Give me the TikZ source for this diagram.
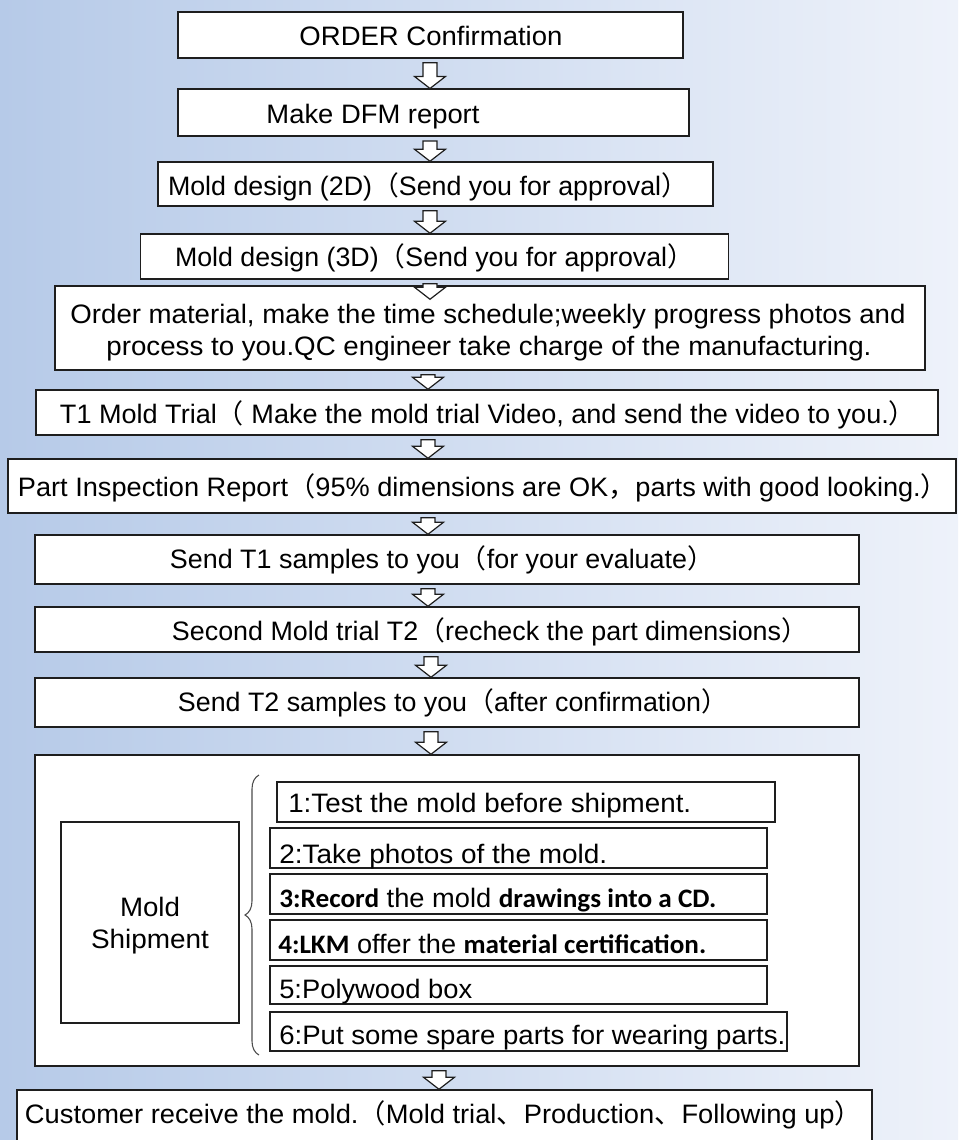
\documentclass[tikz,border=0pt]{standalone}
\usepackage{fontspec}
\setmainfont{Liberation Sans}
\newfontfamily\cjkf{Noto Sans CJK SC}
\newfontfamily\calib{Carlito}
\usetikzlibrary{calc,decorations.pathreplacing}
\newcommand\fw[2]{\resizebox{\dimexpr 0.75pt*#1\relax}{\height}{#2}}
\newcommand\lpar{{\cjkf （}}
\newcommand\rpar{{\cjkf ）}}
\newcommand\fcomma{{\cjkf ，}}
\newcommand\fdun{{\cjkf 、}}
\newcommand\bb[1]{{\calib\bfseries #1}}
\definecolor{bgL}{RGB}{182,202,232}
\definecolor{bgM}{RGB}{214,226,244}
\definecolor{bgR}{RGB}{238,242,250}
\definecolor{edge}{RGB}{30,30,30}
\newcommand\flowarrow[4][0]{%
  \draw[hollow] let \p1=(#2,0), \p2=(#3.south), \p3=($(#4.north)+(0,#1)$) in
   (\x1-5.25pt,\y2-3pt) -- (\x1+5.25pt,\y2-3pt) -- (\x1+5.25pt,\y3+9pt)
   -- (\x1+11.6pt,\y3+9pt) -- (\x1,\y3) -- (\x1-11.6pt,\y3+9pt)
   -- (\x1-5.25pt,\y3+9pt) -- cycle;}
\tikzset{
  boxsty/.style={draw=edge, line width=1.1pt, fill=white, inner sep=0pt},
  bx/.style 2 args={boxsty, minimum width=#1*0.75pt, minimum height=#2*0.75pt},
  txt/.style={inner sep=0pt, anchor=base, font=\fontsize{20}{24}\selectfont, text=black},
  itxt/.style={inner sep=0pt, anchor=base west, font=\fontsize{20}{24}\selectfont, text=black},
  hollow/.style={draw=edge, line width=0.9pt, fill=white, line join=miter},
  bracesty/.style={draw=black!70, line width=0.8pt, decorate,
    decoration={brace, amplitude=10.5pt}}
}
\begin{document}
\begin{tikzpicture}[x=0.75pt,y=-0.75pt]
\useasboundingbox (0,0) rectangle (958,1140);
\clip (0,0) rectangle (958,1140);
\shade[left color=bgL, middle color=bgM, right color=bgR] (0,0) rectangle (958,1140);

% main boxes
\node[bx={505}{46}] (n1) at (430.5,35) {};
\node[bx={511}{47}] (n2) at (433.5,112.7) {};
\node[bx={555}{44}] (n3) at (435.5,184) {};
\node[bx={588}{45}] (n4) at (434.3,256.5) {};
\node[bx={870}{84}] (n5) at (490,328) {};
\node[bx={902}{45}] (n6) at (487,412.5) {};
\node[bx={948}{54}] (n7) at (482,486) {};
\node[bx={824}{49}] (n8) at (447,559.5) {};
\node[bx={824}{45}] (n9) at (447,629.5) {};
\node[bx={824}{49}] (n10) at (447,702.5) {};
\node[bx={824}{311}] (n11) at (447,910.5) {};
\node[bx={855}{70}] (n12) at (444.5,1125) {};

% shipment sub-boxes
\node[bx={178}{201}] (ms) at (150,922.5) {};
\node[bx={498}{40}] (i1) at (526,802) {};
\node[bx={497}{40}] (i2) at (518.5,848) {};
\node[bx={497}{40}] (i3) at (518.5,894) {};
\node[bx={497}{40}] (i4) at (518.5,940) {};
\node[bx={497}{38}] (i5) at (518.5,985) {};
\node[bx={517}{39}] (i6) at (528.5,1031.3) {};

% texts
\node[txt] (t1) at (431,45) {\fw{263}{ORDER Confirmation}};
\node[txt] (t2) at (373,123.3) {\fw{213}{Make DFM report}};
\node[txt] (t3) at (428,195) {\fw{520}{Mold design (2D)\lpar Send you for approval\rpar}};
\node[txt] (t4) at (434.5,266.7) {\fw{519}{Mold design (3D)\lpar Send you for approval\rpar}};
\node[txt] (t5a) at (488,323) {\fw{835}{Order material, make the time schedule;weekly progress photos and}};
\node[txt] (t5b) at (489,355) {\fw{765}{process to you.QC engineer take charge of the manufacturing.}};
\node[txt] (t6) at (488,423) {\fw{856}{T1 Mold Trial\lpar\ Make the mold trial Video, and send the video to you.\rpar}};
\node[txt] (t7) at (483,496) {\fw{930}{Part Inspection Report\lpar 95\% dimensions are OK\fcomma parts with good looking.\rpar}};
\node[txt] (t8) at (442,568) {\fw{544}{Send T1 samples to you\lpar for your evaluate\rpar}};
\node[txt] (t9) at (490,640) {\fw{636}{Second Mold trial T2\lpar recheck the part dimensions\rpar}};
\node[txt] (t10) at (453,711) {\fw{550}{Send T2 samples to you\lpar after confirmation\rpar}};
\node[txt] (t12) at (443.5,1123) {\fw{837}{Customer receive the mold.\lpar Mold trial\fdun Production\fdun Following up\rpar}};

\node[txt] (msa) at (150,916.7) {\fw{60}{Mold}};
\node[txt] (msb) at (150,948) {\fw{118}{Shipment}};

\node[itxt] (it1) at (288,812) {\fw{403}{1:Test the mold before shipment.}};
\node[itxt] (it2) at (279,863) {\fw{328}{2:Take photos of the mold.}};
\node[itxt] (it3) at (279,907.5) {\fw{437}{\bb{3:Record} the mold \bb{drawings into a CD.}}};
\node[itxt] (it4) at (278,953) {\fw{428}{\bb{4:LKM} offer the \bb{material certification.}}};
\node[itxt] (it5) at (279,998) {\fw{193}{5:Polywood box}};
\node[itxt] (it6) at (279,1044) {\fw{506}{6:Put some spare parts for wearing parts.}};

% brace
\coordinate (brB) at (259,1055);
\coordinate (brT) at (259,775);
\draw[bracesty] (brB) -- (brT);

% arrows
\flowarrow{430}{n1}{n2}
\flowarrow{430}{n2}{n3}
\flowarrow{430}{n3}{n4}
\flowarrow[14]{430}{n4}{n5}
\flowarrow{428}{n5}{n6}
\flowarrow{428}{n6}{n7}
\flowarrow{428}{n7}{n8}
\flowarrow{428}{n8}{n9}
\flowarrow{431}{n9}{n10}
\flowarrow{431}{n10}{n11}
\flowarrow{439}{n11}{n12}
\end{tikzpicture}
\end{document}
